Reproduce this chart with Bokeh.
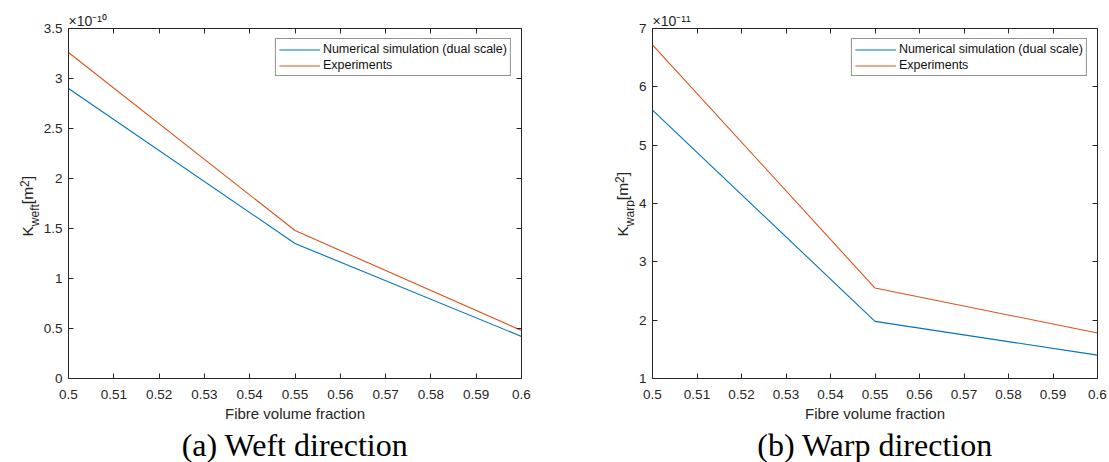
import math
from bokeh.plotting import figure
from bokeh.models import (LinearAxis, FixedTicker, CustomJSTickFormatter, Title,
                          Legend, LegendItem, Range1d, ColumnDataSource)
from bokeh.core.properties import value
from bokeh.layouts import row
from bokeh.embed import file_html
from bokeh.resources import INLINE

# ---------------- data ----------------
fibre_fraction = [0.50, 0.55, 0.60]
weft_numerical = [2.90, 1.35, 0.42]      # x 1e-10 m^2
weft_experiments = [3.26, 1.48, 0.48]    # x 1e-10 m^2
warp_numerical = [5.60, 1.98, 1.40]      # x 1e-11 m^2
warp_experiments = [6.72, 2.55, 1.78]    # x 1e-11 m^2

x_ticks = [0.50, 0.51, 0.52, 0.53, 0.54, 0.55, 0.56, 0.57, 0.58, 0.59, 0.60]
weft_y_ticks = [0, 0.5, 1, 1.5, 2, 2.5, 3, 3.5]
warp_y_ticks = [1, 2, 3, 4, 5, 6, 7]
series_labels = ["Numerical simulation (dual scale)", "Experiments"]
x_label = "Fibre volume fraction"
weft_exponent = "\u00d710\u207b\u00b9\u2070"
warp_exponent = "\u00d710\u207b\u00b9\u00b9"
captions = ["(a) Weft direction", "(b) Warp direction"]

# ---------------- style ----------------
AX = "#262626"
FONT = "Liberation Sans"
SERIF = "Liberation Serif"
BLUE = "#0072BD"
ORANGE = "#D95319"
H = 462
TOP, BOTTOM = 28, 84

CW = {"K": .667, "w": .722, "e": .556, "f": .278, "t": .278, "a": .556, "r": .333,
      "p": .556, "[": .278, "m": .833, "]": .278, "2": .556}


def tw(s, size):
    return sum(CW[c] for c in s) * size


fmt = CustomJSTickFormatter(code="return String(parseFloat(tick.toFixed(4)));")


def style_axis(ax, ticks, show_labels=True):
    ax.ticker = FixedTicker(ticks=ticks)
    ax.axis_line_color = AX
    ax.axis_line_width = 1
    ax.major_tick_line_color = AX
    ax.major_tick_line_width = 1
    ax.major_tick_in = 5
    ax.major_tick_out = 0
    ax.minor_tick_line_color = None
    ax.major_label_text_font = FONT
    if show_labels:
        ax.formatter = fmt
        ax.major_label_text_font_size = "13.5px"
        ax.major_label_text_color = AX
    else:
        ax.major_label_text_font_size = "1px"
        ax.major_label_text_color = None
        ax.major_label_standoff = 0


def ylabel_fig(width, sub, base_x, start_y):
    """narrow text-only figure holding the rotated K_sub[m^2] label;
    its y range is the page's pixel rows (measured from the bottom)"""
    f = figure(width=width, height=H, x_range=Range1d(0, width),
               y_range=Range1d(BOTTOM, H - TOP),
               min_border_left=0, min_border_right=0,
               min_border_top=TOP, min_border_bottom=BOTTOM,
               x_axis_type=None, y_axis_type=None,
               output_backend="svg", toolbar_location=None,
               background_fill_color="white", border_fill_color="white")
    f.outline_line_color = None
    M, S = 15.5, 12
    pieces = [("K", M, 0), (sub, S, 7), ("[m", M, 0), ("2", S, -3), ("]", M, 0)]
    xs, ys, ts, ss = [], [], [], []
    adv = 0.0
    for txt, size, shift in pieces:
        xs.append(base_x + shift)
        ys.append(H - start_y + adv)
        ts.append(txt)
        ss.append(f"{size}px")
        adv += tw(txt, size)
    src = ColumnDataSource(dict(x=xs, y=ys, text=ts, size=ss))
    f.text(x="x", y="y", text="text", source=src, angle=math.pi / 2,
           text_font=value(FONT), text_font_size="size", text_color=AX,
           text_baseline="alphabetic", text_align="left")
    return f


def panel(num, exp, y_ticks, exponent, caption, width, b_left, b_right, cap_dx):
    y0, y1 = y_ticks[0], y_ticks[-1]
    p = figure(width=width, height=H, min_border_left=b_left,
               min_border_right=b_right, min_border_top=TOP,
               min_border_bottom=BOTTOM,
               x_range=Range1d(x_ticks[0], x_ticks[-1]), y_range=Range1d(y0, y1),
               output_backend="svg", toolbar_location=None,
               background_fill_color="white", border_fill_color="white")
    p.outline_line_color = None
    p.xgrid.visible = False
    p.ygrid.visible = False

    style_axis(p.xaxis[0], x_ticks)
    style_axis(p.yaxis[0], y_ticks)
    p.xaxis[0].major_label_standoff = 11
    p.yaxis[0].major_label_standoff = 6
    p.xaxis[0].axis_label = x_label
    p.xaxis[0].axis_label_text_font = FONT
    p.xaxis[0].axis_label_text_font_size = "15px"
    p.xaxis[0].axis_label_text_font_style = "normal"
    p.xaxis[0].axis_label_text_color = AX
    p.xaxis[0].axis_label_standoff = 3

    top = LinearAxis()
    style_axis(top, x_ticks, False)
    p.add_layout(top, "above")
    right = LinearAxis()
    style_axis(right, y_ticks, False)
    p.add_layout(right, "right")

    r1 = p.line(fibre_fraction, num, line_color=BLUE, line_width=1.1)
    r2 = p.line(fibre_fraction, exp, line_color=ORANGE, line_width=1.1)

    legend = Legend(items=[LegendItem(label=series_labels[0], renderers=[r1]),
                           LegendItem(label=series_labels[1], renderers=[r2])],
                    location="top_right", margin=10, padding=3, spacing=2,
                    label_height=13, glyph_height=13, glyph_width=41,
                    label_standoff=3, label_text_font=FONT,
                    label_text_font_size="12.5px", label_text_color="#111111",
                    border_line_color=AX, border_line_width=1,
                    background_fill_color="white", background_fill_alpha=1)
    p.add_layout(legend)

    p.add_layout(Title(text=exponent, align="left", offset=0, standoff=0,
                       text_font=FONT, text_font_size="14px",
                       text_font_style="normal", text_color=AX), "above")
    p.add_layout(Title(text=caption, align="center", offset=cap_dx, standoff=0,
                       text_font=SERIF, text_font_size="32px",
                       text_font_style="normal", text_color="black"), "below")
    return p


ylab1 = ylabel_fig(40, "weft", 27, 236)
p1 = panel(weft_numerical, weft_experiments, weft_y_ticks, weft_exponent,
           captions[0], 520, 28, 39, 5)
ylab2 = ylabel_fig(75, "warp", 62, 236)
p2 = panel(warp_numerical, warp_experiments, warp_y_ticks, warp_exponent,
           captions[1], 474, 17, 12, 19)

layout = row(ylab1, p1, ylab2, p2)
open("out.html", "w").write(file_html(layout, INLINE))
